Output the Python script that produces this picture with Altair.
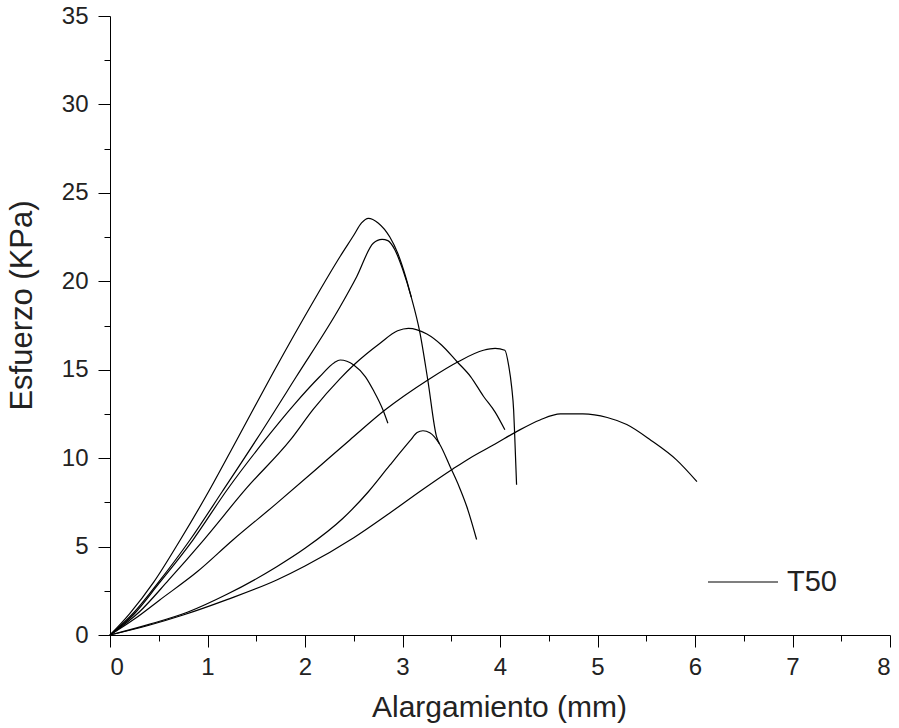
import altair as alt
import pandas as pd

# ---- data (x: Alargamiento mm, y: Esfuerzo KPa) ----
a_x = [0, 0.2, 0.45, 0.72, 1.0, 1.30, 1.67, 2.09, 2.36, 2.50, 2.58, 2.65, 2.75, 2.87, 2.95, 3.03, 3.09]
a_y = [0, 1.2, 3.0, 5.37, 8.0, 11.03, 14.8, 18.9, 21.4, 22.6, 23.3, 23.56, 23.3, 22.5, 21.6, 20.3, 19.1]

b_x = [0, 0.25, 0.5, 0.82, 1.15, 1.50, 1.91, 2.36, 2.53, 2.70, 2.79, 2.85, 2.92, 3.00, 3.09, 3.18, 3.26, 3.35, 3.38]
b_y = [0, 1.3, 3.0, 5.37, 8.1, 11.03, 14.6, 18.56, 20.26, 22.15, 22.37, 22.3, 21.8, 20.7, 19.1, 17.06, 14.4, 11.2, 10.8]

c_x = [0, 0.3, 0.6, 0.96, 1.4, 1.85, 2.09, 2.36, 2.50, 2.77, 2.95, 3.06, 3.25, 3.40, 3.56, 3.70, 3.83, 3.95, 4.05]
c_y = [0, 1.3, 3.1, 5.37, 8.3, 11.03, 12.8, 14.5, 15.27, 16.5, 17.2, 17.34, 17.02, 16.4, 15.45, 14.6, 13.5, 12.6, 11.6]

d_x = [0, 0.25, 0.5, 0.85, 1.2, 1.59, 1.9, 2.15, 2.30, 2.36, 2.50, 2.62, 2.70, 2.80, 2.85]
d_y = [0, 1.2, 2.9, 5.37, 8.2, 11.03, 13.1, 14.6, 15.4, 15.55, 15.27, 14.6, 13.85, 12.72, 11.97]

e_x = [0, 0.25, 0.51, 0.9, 1.26, 1.7, 2.1, 2.46, 2.82, 3.26, 3.57, 3.83, 3.95, 4.05, 4.09, 4.12, 4.14, 4.15, 4.17]
e_y = [0, 0.9, 1.98, 3.6, 5.37, 7.4, 9.3, 11.03, 12.72, 14.42, 15.45, 16.1, 16.21, 16.1, 15.2, 14.0, 12.7, 11.4, 8.5]

f_x = [0, 0.4, 0.8, 1.2, 1.71, 2.0, 2.39, 2.65, 2.87, 3.08, 3.15, 3.21, 3.28, 3.38, 3.49, 3.58, 3.66, 3.76]
f_y = [0, 0.6, 1.3, 2.3, 3.86, 4.9, 6.6, 8.1, 9.6, 11.0, 11.45, 11.55, 11.44, 10.8, 9.5, 8.4, 7.25, 5.4]

g_x = [0, 0.4, 0.75, 1.2, 1.71, 2.0, 2.5, 2.87, 3.2, 3.52, 3.69, 3.95, 4.17, 4.41, 4.62, 4.85, 5.1, 5.30, 5.55, 5.81, 6.02]
g_y = [0, 0.55, 1.13, 2.0, 3.11, 3.9, 5.5, 6.9, 8.2, 9.4, 10.0, 10.8, 11.5, 12.16, 12.5, 12.5, 12.3, 11.9, 11.0, 9.9, 8.67]

series_name = "T50"
x_ticks = [i * 0.5 for i in range(17)]
y_ticks = [i * 2.5 for i in range(15)]

curves = {"a": (a_x, a_y), "b": (b_x, b_y), "c": (c_x, c_y), "d": (d_x, d_y),
          "e": (e_x, e_y), "f": (f_x, f_y), "g": (g_x, g_y)}
rows = []
for cid, (xs, ys) in curves.items():
    for i, (xv, yv) in enumerate(zip(xs, ys)):
        rows.append({"curve": cid, "idx": i, "x": xv, "y": yv, "serie": series_name})
df = pd.DataFrame(rows)

font = "Liberation Sans"

chart = alt.Chart(df).mark_line(interpolate="monotone", strokeWidth=1.2).encode(
    x=alt.X("x:Q", scale=alt.Scale(domain=[0, 8], nice=False, zero=False),
            axis=alt.Axis(values=x_ticks, title="Alargamiento (mm)",
                          labelExpr="datum.value % 1 === 0 ? format(datum.value, 'd') : ''",
                          tickSize={"condition": {"test": "datum.value % 1 !== 0", "value": 6}, "value": 12},
                          labelPadding=8, labelFont=font, labelFontSize=24,
                          titleFont=font, titleFontSize=30, titleFontWeight="normal",
                          titleX=389, titleY=81, titleBaseline="alphabetic",
                          titleAlign="center")),
    y=alt.Y("y:Q", scale=alt.Scale(domain=[0, 35], nice=False, zero=False),
            axis=alt.Axis(values=y_ticks, title="Esfuerzo (KPa)",
                          labelExpr="datum.value % 5 === 0 ? format(datum.value, 'd') : ''",
                          tickSize={"condition": {"test": "datum.value % 5 !== 0", "value": 6}, "value": 12},
                          labelPadding=10, labelFont=font, labelFontSize=24,
                          titleFont=font, titleFontSize=31, titleFontWeight="normal",
                          titleAngle=270, titleX=-88, titleY=289, titleAlign="center",
                          titleBaseline="middle")),
    detail="curve:N",
    order="idx:Q",
    color=alt.Color("serie:N", scale=alt.Scale(range=["black"]),
                    legend=alt.Legend(title=None, orient="none", legendX=597, legendY=530,
                                      symbolType="stroke", symbolSize=4900, symbolStrokeWidth=1.2,
                                      labelFont=font, labelFontSize=29, labelColor="#222",
                                      labelOffset=8, padding=0)),
).properties(
    width=780, height=619,
    autosize=alt.AutoSizeParams(type="none"),
    padding={"left": 110, "top": 16, "right": 9, "bottom": 93},
    background="white",
).configure_view(stroke=None).configure_axis(
    grid=False, domainColor="black", domainWidth=1, tickColor="black", tickWidth=1,
    labelColor="#222", titleColor="#222",
)

chart.save("out.html", embed_options={"renderer": "svg", "actions": False})
